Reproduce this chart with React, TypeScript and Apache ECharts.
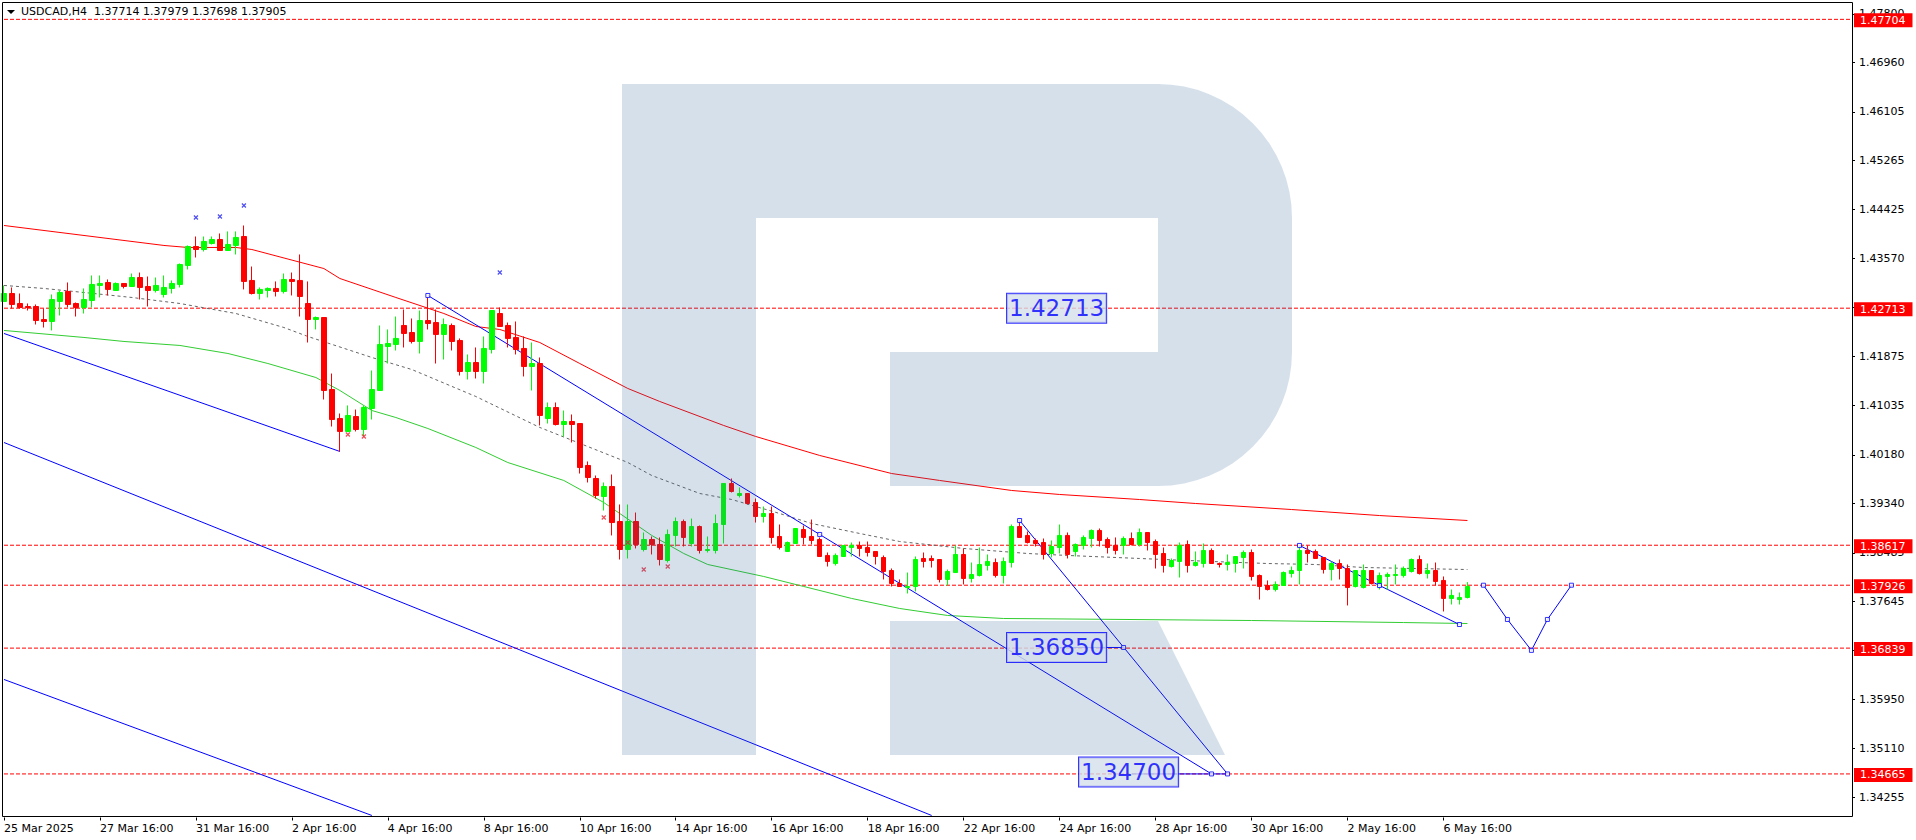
import React, { useEffect, useRef } from "react";
import * as echarts from "echarts";

const FONT = "'DejaVu Sans'";
const HEADER = "USDCAD,H4  1.37714 1.37979 1.37698 1.37905";
const BAR_SLOTS = 232;
const timeLabels = ["25 Mar 2025","27 Mar 16:00","31 Mar 16:00","2 Apr 16:00","4 Apr 16:00","8 Apr 16:00","10 Apr 16:00","14 Apr 16:00","16 Apr 16:00","18 Apr 16:00","22 Apr 16:00","24 Apr 16:00","28 Apr 16:00","30 Apr 16:00","2 May 16:00","6 May 16:00"];
const priceTicks = [1.478,1.4696,1.46105,1.45265,1.44425,1.4357,1.42725,1.41875,1.41035,1.4018,1.3934,1.38485,1.37645,1.368,1.3595,1.3511,1.34255];
const levels = [1.47704,1.42713,1.38617,1.37926,1.36839,1.34665];

// [open, close, low, high]
const candles = [
[1.42829,1.42967,1.42829,1.43106],[1.42967,1.42777,1.42708,1.43071],[1.42794,1.42725,1.42708,1.42967],[1.42742,1.42725,1.42673,1.42794],
[1.42742,1.425,1.42431,1.42777],[1.42517,1.42483,1.42379,1.42708],[1.42483,1.42863,1.42328,1.4295],[1.42829,1.42984,1.42587,1.43019],
[1.43002,1.42777,1.42725,1.43157],[1.42794,1.42725,1.42569,1.42811],[1.42725,1.42863,1.42621,1.43054],[1.42846,1.43123,1.42725,1.43278],
[1.43106,1.4314,1.42898,1.43278],[1.43157,1.43037,1.42933,1.43209],[1.43019,1.4314,1.43019,1.43157],[1.4314,1.43088,1.43054,1.4314],
[1.43088,1.43243,1.43088,1.43312],[1.43243,1.43071,1.42863,1.43329],[1.43088,1.43019,1.42742,1.4326],[1.43019,1.43106,1.42984,1.43243],
[1.4295,1.43071,1.42898,1.43278],[1.43054,1.4314,1.42967,1.43192],[1.43123,1.43468,1.43071,1.43485],[1.43451,1.43779,1.43382,1.43797],
[1.43779,1.43727,1.43589,1.43952],[1.43727,1.43866,1.43693,1.43952],[1.43831,1.439,1.43814,1.43952],[1.439,1.4371,1.4371,1.44004],
[1.4371,1.43814,1.4371,1.44039],[1.43797,1.43935,1.43641,1.44039],[1.43952,1.43175,1.43037,1.44142],[1.43192,1.42967,1.4295,1.43433],
[1.42967,1.43037,1.42863,1.43071],[1.43019,1.43054,1.42898,1.43071],[1.43054,1.43002,1.42915,1.43175],[1.43002,1.43209,1.42967,1.43312],
[1.43209,1.43175,1.42933,1.43329],[1.43192,1.42915,1.42569,1.43641],[1.42794,1.42517,1.4212,1.43175],[1.42517,1.42552,1.42345,1.42569],
[1.42552,1.41291,1.41135,1.42552],[1.41308,1.40789,1.40668,1.41584],[1.40807,1.40583,1.40237,1.40893],[1.40583,1.40859,1.40583,1.41032],
[1.40841,1.40617,1.40583,1.40962],[1.40617,1.40997,1.40496,1.41032],[1.4098,1.41308,1.40789,1.41636],[1.41291,1.42086,1.41291,1.42414],
[1.42051,1.42103,1.41757,1.42345],[1.42086,1.4219,1.41982,1.42569],[1.42414,1.42276,1.42034,1.4269],[1.42293,1.42138,1.42103,1.42535],
[1.42138,1.425,1.4193,1.42673],[1.425,1.42448,1.42345,1.42898],[1.42465,1.42259,1.41757,1.4269],[1.42259,1.42431,1.41826,1.42535],
[1.42414,1.42138,1.41982,1.42448],[1.42155,1.41619,1.4155,1.4219],[1.41619,1.41774,1.41481,1.41913],[1.41774,1.41619,1.41498,1.42034],
[1.41619,1.42017,1.41412,1.42224],[1.41999,1.42673,1.4193,1.42673],[1.42621,1.42397,1.42397,1.42725],[1.42414,1.4219,1.42034,1.42465],
[1.42207,1.41999,1.41913,1.42483],[1.42017,1.41705,1.41533,1.42224],[1.41705,1.41757,1.41291,1.4212],[1.41757,1.40859,1.40686,1.41861],
[1.40807,1.40997,1.4072,1.41083],[1.40997,1.40703,1.40686,1.41083],[1.40703,1.40755,1.40496,1.40945],[1.40755,1.40703,1.40392,1.40876],
[1.4072,1.3996,1.39856,1.4072],[1.39995,1.39787,1.39701,1.40064],[1.3977,1.39477,1.39425,1.39822],[1.39459,1.39632,1.39217,1.39701],
[1.39632,1.39009,1.38786,1.39839],[1.39027,1.38543,1.3837,1.39321],[1.38543,1.39027,1.38388,1.39321],[1.39027,1.3863,1.38561,1.39182],
[1.38543,1.38716,1.38509,1.38837],[1.38716,1.3863,1.38457,1.38768],[1.3863,1.3837,1.38267,1.38751],[1.38353,1.38803,1.38318,1.38889],
[1.38786,1.39027,1.38595,1.39096],[1.39027,1.38751,1.38595,1.39061],[1.38647,1.3894,1.38595,1.39078],[1.3894,1.38526,1.38474,1.38958],
[1.38526,1.38543,1.38491,1.38768],[1.38526,1.38992,1.38474,1.39148],[1.38975,1.39684,1.38647,1.39684],[1.39684,1.39546,1.39528,1.3977],
[1.39477,1.39511,1.39442,1.39615],[1.39511,1.39338,1.39321,1.39511],[1.39355,1.39113,1.39009,1.39425],[1.39113,1.39165,1.39009,1.39286],
[1.39165,1.38751,1.38647,1.39286],[1.38768,1.38578,1.38543,1.38975],[1.38509,1.38664,1.38509,1.38681],[1.38647,1.38906,1.38647,1.38906],
[1.38889,1.38751,1.3863,1.38958],[1.38768,1.38699,1.3863,1.39061],[1.38716,1.38422,1.38422,1.38751],[1.3844,1.38336,1.38249,1.38491],
[1.38301,1.3844,1.38267,1.38474],[1.38422,1.38613,1.38422,1.38613],[1.38578,1.38613,1.38422,1.38664],[1.38613,1.38561,1.38422,1.38681],
[1.38578,1.38491,1.38422,1.38681],[1.38509,1.38422,1.38284,1.38509],[1.38405,1.38163,1.38025,1.3844],[1.3818,1.37956,1.37904,1.38215],
[1.37956,1.37904,1.37904,1.38025],[1.37887,1.37904,1.37783,1.38145],[1.37904,1.3837,1.37818,1.38422],[1.38388,1.38336,1.38232,1.38491],
[1.38388,1.38353,1.38232,1.3844],[1.3837,1.38025,1.37973,1.3837],[1.38025,1.38163,1.37921,1.38197],[1.38145,1.38457,1.38145,1.38613],
[1.38457,1.38042,1.37939,1.38561],[1.38042,1.38111,1.37973,1.38318],[1.38094,1.38284,1.38077,1.38578],[1.38267,1.38336,1.3818,1.38457],
[1.38318,1.38094,1.38059,1.38388],[1.38094,1.38336,1.37956,1.38405],[1.38318,1.3894,1.38232,1.38975],[1.3894,1.38751,1.38751,1.39061],
[1.38786,1.38664,1.38647,1.38855],[1.38699,1.38647,1.38595,1.38733],[1.38664,1.38457,1.3837,1.38733],[1.38474,1.38595,1.38405,1.38699],
[1.38578,1.38786,1.38474,1.38975],[1.38786,1.38457,1.38388,1.38837],[1.38509,1.3863,1.38422,1.38647],[1.38613,1.38751,1.38543,1.38786],
[1.38733,1.38872,1.38578,1.38889],[1.38872,1.38699,1.38595,1.38906],[1.38716,1.38578,1.38474,1.38751],[1.38613,1.38526,1.38457,1.38751],
[1.38613,1.38733,1.38457,1.38768],[1.38733,1.3863,1.38613,1.38837],[1.3863,1.38837,1.38595,1.38906],[1.38837,1.38664,1.38526,1.38837],
[1.38681,1.38457,1.38215,1.38716],[1.38474,1.38267,1.38145,1.38578],[1.38249,1.38353,1.38232,1.38388],[1.38336,1.38613,1.38059,1.38664],
[1.3863,1.38267,1.38145,1.38699],[1.38267,1.38318,1.38249,1.38509],[1.38301,1.38526,1.38232,1.38647],[1.38526,1.38301,1.38301,1.38561],
[1.38301,1.38284,1.38232,1.38318],[1.38284,1.38318,1.3818,1.38457],[1.38301,1.38422,1.38145,1.38422],[1.38405,1.38491,1.38215,1.38526],
[1.38491,1.38077,1.38008,1.38543],[1.38094,1.37904,1.37679,1.38111],[1.37921,1.37852,1.37835,1.38008],[1.37852,1.37939,1.37818,1.37991],
[1.37921,1.38145,1.37921,1.38163],[1.38128,1.3818,1.38059,1.38249],[1.3818,1.38526,1.37939,1.38613],[1.38526,1.38474,1.38318,1.38613],
[1.38509,1.38388,1.38388,1.38543],[1.38405,1.38197,1.38128,1.38405],[1.38197,1.38301,1.38008,1.38336],[1.38301,1.38215,1.38025,1.3837],
[1.38215,1.37887,1.37576,1.38284],[1.37904,1.3818,1.37887,1.3818],[1.37887,1.3818,1.3787,1.38284],[1.3818,1.37956,1.37939,1.3818],
[1.37939,1.38094,1.37852,1.38145],[1.38077,1.38111,1.37852,1.38145],[1.38094,1.38111,1.37939,1.38284],[1.38094,1.38215,1.38059,1.38249],
[1.38163,1.3837,1.38145,1.38388],[1.3837,1.38128,1.38111,1.3844],[1.38128,1.3818,1.38042,1.38301],[1.3818,1.37991,1.37921,1.38318],
[1.38008,1.37697,1.37472,1.38077],[1.37697,1.37749,1.37593,1.37852],[1.37679,1.37714,1.37593,1.378],[1.37714,1.37905,1.37698,1.37979],
];

const redMa = [[0,1.44142],[20,1.43797],[23,1.43762],[29,1.43762],[31,1.43727],[40,1.43398],[42,1.43226],[49,1.42898],[55,1.42621],[59,1.42397],[62,1.42345],[67,1.4212],[72,1.41757],[78,1.41326],[82,1.41101],[90,1.40686],[94,1.40496],[102,1.40168],[111,1.39856],[117,1.39736],[126,1.39563],[132,1.39494],[142,1.39407],[149,1.39338],[161,1.39234],[172,1.3913],[183,1.39044]];
const grayMa = [[0,1.43106],[5,1.43054],[10,1.42984],[16,1.42898],[22,1.42794],[29,1.42621],[35,1.42379],[38,1.42224],[46,1.41861],[51,1.41653],[59,1.41187],[67,1.40652],[78,1.40047],[81,1.39822],[87,1.39511],[91,1.39407],[97,1.39165],[101,1.38992],[107,1.3882],[112,1.38681],[120,1.38561],[128,1.38474],[133,1.3844],[142,1.38388],[151,1.38336],[158,1.38301],[164,1.38284],[170,1.38232],[183,1.38197]];
const greenMa = [[0,1.42328],[10,1.42207],[15,1.42138],[22,1.42069],[28,1.4193],[33,1.41757],[39,1.41515],[42,1.41291],[46,1.40945],[49,1.40824],[53,1.40634],[59,1.40306],[63,1.40046],[70,1.39736],[75,1.39355],[77,1.39165],[81,1.38786],[85,1.38474],[88,1.38284],[95,1.38077],[100,1.37904],[106,1.37697],[112,1.37524],[118,1.37403],[125,1.37351],[156,1.37316],[175,1.37281],[183,1.37264]];

const blueLines = [
  [[0,1.42276],[42,1.40237]],
  [[0,1.40392],[116,1.33947]],
  [[0,1.36297],[46,1.33947]],
  [[53,1.42933],[102,1.38803],[151,1.34665]],
  [[127,1.39044],[153,1.34665]],
  [[162,1.38613],[172,1.37921],[182,1.37247]],
  [[185,1.37926],[188,1.37334],[191,1.368],[193,1.37334],[196,1.37926]],
  [[132,1.3685],[140,1.3685]],
  [[141,1.34665],[153,1.34665]],
];
const anchors = [[53,1.42933],[102,1.38803],[127,1.39044],[140,1.3685],[151,1.34665],[153,1.34665],[162,1.38613],[172,1.37921],[182,1.37247],[185,1.37926],[188,1.37334],[191,1.368],[193,1.37334],[196,1.37926]];
const blueMarks = [[24,1.4428],[27,1.44298],[30,1.44488],[62,1.43329]];
const redMarks = [[43,1.40531],[45,1.40496],[75,1.39096],[78,1.38664],[80,1.38197],[83,1.38249]];
const priceBoxes = [[132,1.42713],[132,1.3685],[141,1.347]];

const LOGO_PATH = "M622 84H1158A134 134 0 0 1 1292 218V352A134 134 0 0 1 1158 486H890V352H1158V218H756V755H622ZM890 621H1158L1225 755H890Z";
const CROSS = "path://M0 0L10 10M10 0L0 10";

echarts.graphic.registerShape("logo", echarts.graphic.extendPath(LOGO_PATH, {}));

export default function App() {
  const ref = useRef<HTMLDivElement>(null);
  useEffect(() => {
    const chart = echarts.init(ref.current!, null, { renderer: "svg", width: 1916, height: 840 });
    const categories = Array.from({ length: BAR_SLOTS }, (_, i) => (i % 12 === 0 && timeLabels[i / 12]) || "");
    const shown = (i: number) => i % 12 === 0 && i / 12 < timeLabels.length;
    const plainLine = (data: number[][], color: string, type: any = "solid", z = 3) => ({
      type: "line", data, showSymbol: false, symbol: "none", silent: true, z,
      lineStyle: { color, width: 1, type }, itemStyle: { color },
    });
    chart.setOption({
      animation: false,
      backgroundColor: "#fff",
      textStyle: { fontFamily: FONT, fontSize: 11 },
      grid: { left: -0.7, top: 3.5, width: 1856, height: 814 },
      xAxis: {
        type: "category", data: categories, boundaryGap: true,
        axisLine: { show: false },
        axisTick: { show: true, interval: shown, alignWithLabel: true, length: 3, lineStyle: { color: "#000" } },
        axisLabel: { interval: shown, align: "left", margin: 5, color: "#000", fontFamily: FONT, fontSize: 11, hideOverlap: false },
        splitLine: { show: false },
      },
      yAxis: {
        type: "value", position: "right", offset: -3.3, min: 1.33912, max: 1.47978,
        axisLine: { show: false },
        axisTick: { show: true, length: 3, lineStyle: { color: "#000" }, customValues: priceTicks },
        axisLabel: { customValues: priceTicks, margin: 7, color: "#000", fontFamily: FONT, fontSize: 11, formatter: (v: number) => v.toFixed(5) },
        splitLine: { show: false },
      },
      graphic: [
        { type: "logo", x: 0, y: 0, z: 100, silent: true, style: { fill: "rgba(49,98,157,0.2)" } },
        { type: "rect", z: 50, silent: true, shape: { x: 2.5, y: 2.5, width: 1850, height: 814 }, style: { fill: "none", stroke: "#000", lineWidth: 1 } },
        { type: "polygon", z: 50, silent: true, shape: { points: [[7, 10], [15, 10], [11, 14]] }, style: { fill: "#000" } },
        { type: "text", z: 50, silent: true, x: 21, y: 6, style: { text: HEADER, fill: "#000", font: `11px ${FONT}` } },
      ],
      series: [
        ...levels.map((lvl) => ({
          type: "line", data: [[0, lvl], [BAR_SLOTS - 1, lvl]], symbol: "none", silent: true, z: 2,
          lineStyle: { color: "#ff0000", width: 1, type: [4, 2] },
          endLabel: {
            show: true, formatter: () => lvl.toFixed(5), color: "#fff", backgroundColor: "#ff0000",
            padding: [2, 7, 1, 6], distance: 2.7, offset: [0, 1], fontFamily: FONT, fontSize: 11,
          },
        })),
        plainLine(redMa, "#ff0000"),
        plainLine(grayMa, "#666666", [3, 3]),
        plainLine(greenMa, "#32cd32"),
        ...blueLines.map((l) => plainLine(l, "#0000ff", "solid", 4)),
        {
          type: "candlestick", data: candles, barWidth: 5, silent: true, z: 5,
          itemStyle: { color: "#00ff00", color0: "#ff0000", borderColor: "#00ff00", borderColor0: "#ff0000", borderWidth: 1 },
        },
        {
          type: "scatter", data: anchors, symbol: "rect", symbolSize: 4, silent: true, z: 6,
          itemStyle: { color: "#fff", borderColor: "#0000ff", borderWidth: 1 },
        },
        {
          type: "scatter", data: blueMarks, symbol: CROSS, symbolSize: 4, silent: true, z: 6,
          itemStyle: { color: "none", borderColor: "#2020f0", borderWidth: 1.2 },
        },
        {
          type: "scatter", data: redMarks, symbol: CROSS, symbolSize: 4, silent: true, z: 6,
          itemStyle: { color: "none", borderColor: "#e82030", borderWidth: 1.2 },
        },
        {
          type: "scatter", data: priceBoxes, symbolSize: 0, silent: true, z: 200,
          label: {
            show: true, position: "inside", offset: [-3, 0], formatter: (p: any) => p.value[1].toFixed(5),
            color: "#0000ff", fontFamily: FONT, fontSize: 23, backgroundColor: "#d5dfeb",
            borderColor: "#0000ff", borderWidth: 1, padding: [3, 2, 3, 2],
          },
        },
      ],
    });
    return () => chart.dispose();
  }, []);
  return <div ref={ref} style={{ position: "fixed", left: 0, top: 0, width: 1916, height: 840, overflow: "hidden" }} />;
}
